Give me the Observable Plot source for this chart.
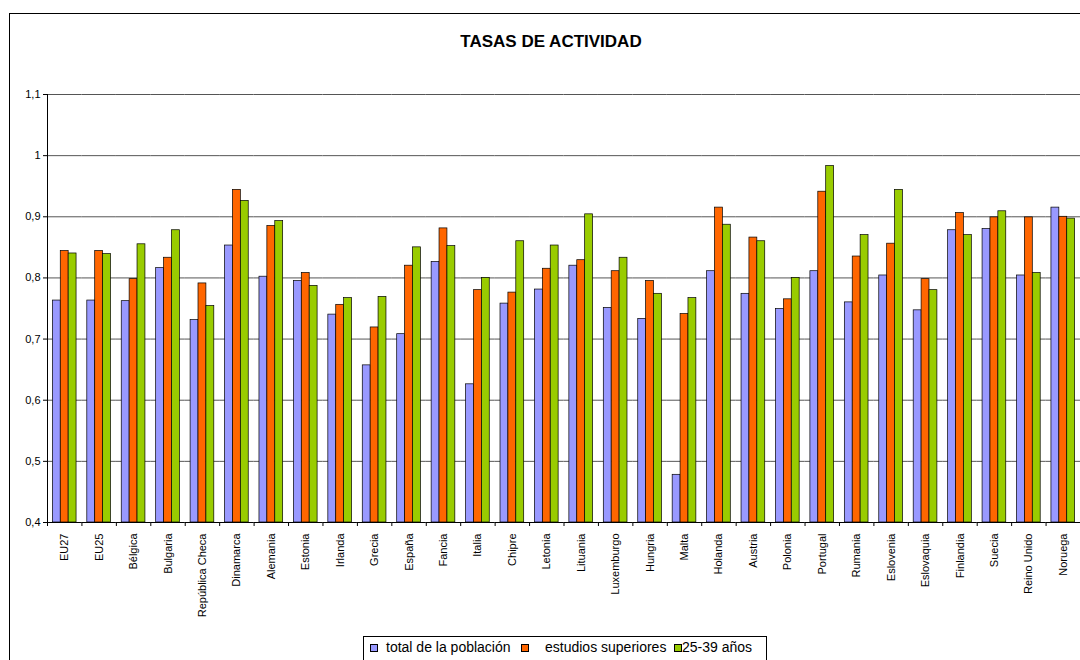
<!DOCTYPE html>
<html>
<head>
<meta charset="utf-8">
<script src="https://cdn.jsdelivr.net/npm/d3@7"></script>
<script src="https://cdn.jsdelivr.net/npm/@observablehq/plot@0.6"></script>
<style>
  html, body { margin: 0; padding: 0; background: #fff; }
  body { width: 1080px; height: 660px; overflow: hidden; position: relative; font-family: Arial, "Liberation Sans", sans-serif; }
  #frame { position: absolute; left: 9px; top: 13px; width: 1100px; height: 700px; border: 1px solid #000; box-sizing: border-box; }
  #title { position: absolute; left: 0; top: 32px; width: 1102px; text-align: center; font-weight: bold; font-size: 17px; line-height: 20px; color: #000; }
  #chart { position: absolute; left: 0; top: 80px; }
  #legend { position: absolute; left: 363px; top: 636px; width: 404px; height: 30px; border: 1px solid #000; box-sizing: border-box; font-size: 14px; white-space: nowrap; }
  #legend .sw { position: absolute; top: 7px; width: 6px; height: 6px; border: 1px solid #000; }
  #legend .lab { position: absolute; top: 1px; line-height: 18px; }
</style>
</head>
<body>
<div id="frame"></div>
<div id="title">TASAS DE ACTIVIDAD</div>
<div id="chart"></div>
<div id="legend"></div>
<script>
const countries = ["EU27","EU25","Bélgica","Bulgaria","República Checa","Dinamarca","Alemania","Estonia","Irlanda","Grecia","España","Fancia","Italia","Chipre","Letonia","Lituania","Luxemburgo","Hungria","Malta","Holanda","Austria","Polonia","Portugal","Rumania","Eslovenia","Eslovaquia","Finlandia","Suecia","Reino Unido","Noruega"];
const seriesNames = ["total de la población","estudios superiores","25-39 años"];
const seriesColors = ["#9999FF","#FF6600","#99CC00"];
const total = [0.763,0.763,0.762,0.816,0.731,0.853,0.802,0.795,0.740,0.657,0.708,0.826,0.626,0.758,0.781,0.820,0.751,0.733,0.478,0.811,0.774,0.749,0.811,0.760,0.804,0.747,0.878,0.880,0.804,0.915];
const superiores = [0.844,0.844,0.798,0.833,0.791,0.944,0.885,0.808,0.756,0.719,0.820,0.881,0.780,0.776,0.815,0.829,0.811,0.795,0.741,0.915,0.866,0.765,0.941,0.835,0.856,0.798,0.906,0.899,0.899,0.900];
const jovenes = [0.840,0.839,0.855,0.878,0.754,0.926,0.893,0.787,0.767,0.769,0.850,0.852,0.800,0.860,0.853,0.904,0.833,0.774,0.767,0.887,0.860,0.800,0.983,0.870,0.944,0.780,0.870,0.909,0.808,0.897];
const yTicks = [0.4,0.5,0.6,0.7,0.8,0.9,1.0,1.1];

const seriesValues = [total, superiores, jovenes];
const rows = [];
countries.forEach((c, i) => {
  seriesNames.forEach((s, j) => rows.push({country: c, series: s, value: seriesValues[j][i]}));
});

const W = 1080, ML = 47, MR = 0;
const fxStep = (W - ML - MR) / countries.length;
const fmt = d => String(+d.toFixed(1)).replace(".", ",");

const chart = Plot.plot({
  width: W,
  height: 560,
  marginTop: 14,
  marginBottom: 118,
  marginLeft: ML,
  marginRight: MR,
  style: {fontFamily: "Arial, 'Liberation Sans', sans-serif", color: "#000", background: "transparent"},
  fx: {domain: countries, padding: 0, round: false, label: null},
  x: {domain: seriesNames, paddingInner: 0, paddingOuter: 0.68, round: false, axis: null},
  y: {domain: [0.4, 1.1], label: null},
  color: {domain: seriesNames, range: seriesColors},
  marks: [
    Plot.ruleY(yTicks.slice(1), {stroke: "#555", strokeWidth: 1}),
    Plot.barY(rows, {fx: "country", x: "series", y1: 0.4, y2: "value", fill: "series", stroke: "#000", strokeWidth: 0.7}),
    Plot.ruleY([0.4], {stroke: "#000", strokeWidth: 1}),
    Plot.frame({anchor: "left", facetAnchor: "left", stroke: "#000"}),
    Plot.axisY({ticks: yTicks, tickFormat: fmt, tickSize: 4, tickPadding: 3, fontSize: 11, label: null}),
    Plot.axisFx({anchor: "bottom", tickSize: 0, tickPadding: 11, tickRotate: -90, fontSize: 11, label: null}),
    Plot.axisFx({anchor: "bottom", tickSize: 4, text: null, dx: -fxStep / 2, label: null})
  ]
});
document.getElementById("chart").appendChild(chart);

const legend = document.getElementById("legend");
const swLeft = [6, 157, 310];
const labLeft = [22, 181, 318];
legend.innerHTML = seriesNames.map((s, i) =>
  `<span class="sw" style="left:${swLeft[i]}px;background:${seriesColors[i]}"></span><span class="lab" style="left:${labLeft[i]}px">${s}</span>`
).join("");
</script>
</body>
</html>
